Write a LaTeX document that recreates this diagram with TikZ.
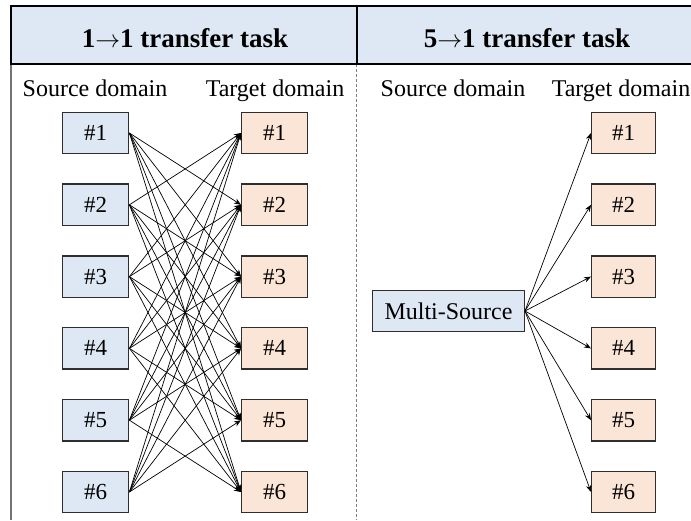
\documentclass[tikz,border=0pt]{standalone}
\usepackage{fontspec}
\setmainfont{Liberation Serif}
\usetikzlibrary{arrows.meta}
\definecolor{srcfill}{HTML}{DEE8F4}
\definecolor{tgtfill}{HTML}{FBE5D6}
\definecolor{hdrfill}{HTML}{DEE8F4}
\definecolor{boxline}{HTML}{2E2E2E}
\tikzset{
  srcbox/.style={draw=boxline, line width=1.4pt, fill=srcfill, minimum width=66pt, minimum height=41.5pt, inner sep=0pt, font=\fontsize{23}{23}\selectfont},
  tgtbox/.style={draw=boxline, line width=1.4pt, fill=tgtfill, minimum width=66pt, minimum height=41.5pt, inner sep=0pt, font=\fontsize{23}{23}\selectfont},
  lbl/.style={anchor=base, inner sep=0pt, font=\fontsize{24}{24}\selectfont},
  ttl/.style={anchor=base, inner sep=0pt, font=\fontsize{27}{27}\selectfont\bfseries},
  conn/.style={line width=0.7pt, -{Stealth[length=7pt,width=5.5pt]}},
}
\begin{document}
\begin{tikzpicture}[x=1pt,y=-1pt]
\useasboundingbox (0,0) rectangle (691,520);
% left grey border
\draw[line width=2pt, color=gray!110] (11,6) -- (11,520);
% dashed divider
\draw[line width=0.8pt, color=gray, dash pattern=on 3pt off 2pt] (356.7,64) -- (356.7,520);
% header
\fill[hdrfill] (11,6) rectangle (691,64);
\draw[line width=2pt] (691,6) -- (11,6) -- (11,64) -- (691,64);
\draw[line width=2pt] (356.7,6) -- (356.7,64);
\node[ttl] (t1) at (185,47) {1$\rightarrow$1 transfer task};
\node[ttl] (t2) at (527,47) {5$\rightarrow$1 transfer task};
% column labels
\node[lbl] (ls1) at (95,96) {Source domain};
\node[lbl] (lt1) at (275,96) {Target domain};
\node[lbl] (ls2) at (453,96) {Source domain};
\node[lbl] (lt2) at (621,96) {Target domain};
% boxes
\foreach \i/\y in {1/133,2/204.8,3/276.6,4/348.4,5/420.2,6/492}{
  \node[srcbox] (s\i) at (95.7,\y) {\#\i};
  \node[tgtbox] (t\i) at (274.7,\y) {\#\i};
  \node[tgtbox, minimum width=64pt] (r\i) at (623.7,\y) {\#\i};
}
\node[srcbox, minimum width=151.6pt, font=\fontsize{24}{24}\selectfont] (ms) at (448.5,311) {Multi-Source};
% connectors
\foreach \i in {1,...,6}{
  \foreach \j in {1,...,6}{
    \ifnum\i=\j\else
      \draw[conn] (s\i.east) -- (t\j.west);
    \fi
  }
  \draw[conn] (ms.east) -- (r\i.west);
}
\end{tikzpicture}
\end{document}
